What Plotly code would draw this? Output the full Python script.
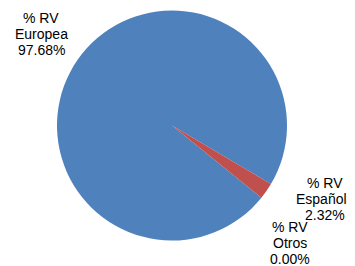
import plotly.graph_objects as go

categories = ["Europea", "Española", "Otros"]
values = [97.68, 2.32, 0.00]
pct_text = ["97.68%", "2.32%", "0.00%"]
colors = ["#4F81BD", "#C0504D", "#9BBB59"]

# The page body has an 8px margin, so the figure is sized to fit the window
OFF = 8
W, H = 355 - OFF, 266 - OFF


def px_x(x):
    return (x - OFF) / W


def px_y(y):
    return 1 - (y - OFF) / H


fig = go.Figure(go.Pie(
    labels=["% RV " + c for c in categories],
    values=values,
    sort=False,
    direction="clockwise",
    rotation=129,
    marker=dict(colors=colors, line=dict(width=0)),
    textinfo="none",
    hoverinfo="skip",
    showlegend=False,
    domain=dict(x=[px_x(57), px_x(287)], y=[px_y(241), px_y(10)]),
))

# label placements (pixel centres of the three lines)
label_pos = [(41, 18), (325, 183), (290, 227)]
LINE = 16
for cat, pct, (cx, y0) in zip(categories, pct_text, label_pos):
    for i, line in enumerate(["% RV", cat, pct]):
        fig.add_annotation(
            x=px_x(cx), y=px_y(y0 + i * LINE), xref="paper", yref="paper",
            text=line, showarrow=False,
            font=dict(family="Liberation Sans, Arial, sans-serif", size=14, color="#000000"),
            align="center", xanchor="center", yanchor="middle",
        )

fig.update_layout(
    width=W, height=H,
    margin=dict(l=0, r=0, t=0, b=0),
    paper_bgcolor="white", plot_bgcolor="white",
)

fig.write_html("out.html")
